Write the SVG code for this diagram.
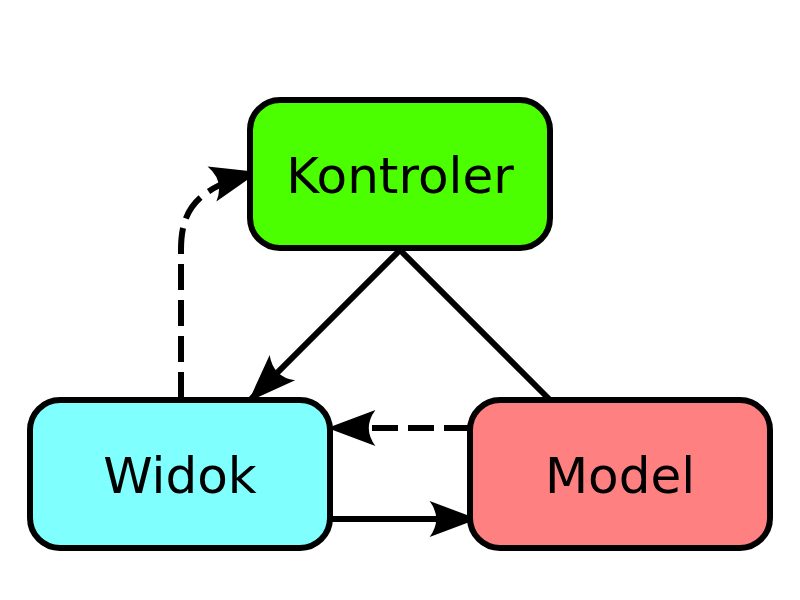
<svg xmlns="http://www.w3.org/2000/svg" width="800" height="600" viewBox="0 0 800 600">
<style>
.box{stroke:#000;stroke-width:6}
.lbl{font-family:"DejaVu Sans",sans-serif;font-size:50px;text-anchor:middle;fill:#000}
.c{fill:none;stroke:#000;stroke-width:6}
.d{stroke-dasharray:26,10}
</style>
<defs>
<marker id="ah" markerUnits="userSpaceOnUse" orient="auto" markerWidth="60" markerHeight="60" viewBox="-45 -20 50 40" refX="0" refY="0" overflow="visible">
<path d="M3,0 L-37,-15 Q-26,0 -37,15 Z" fill="#000"/>
</marker>
</defs>
<rect width="800" height="600" fill="#fff"/>
<g id="connectors">
<path class="c" d="M400,250 L251,399" marker-end="url(#ah)"/>
<path class="c" d="M400,250 L550,400"/>
<path class="c d" d="M470,428 L331,428" marker-end="url(#ah)"/>
<path class="c" d="M330,519 L474,519" marker-end="url(#ah)"/>
<path class="c d" d="M181,398 L181,250 C181,210 196,188 255,173" marker-end="url(#ah)"/>
</g>
<g id="kontroler">
<rect class="box" x="250" y="100" width="300" height="148" rx="30" fill="#4cff00"/>
<text class="lbl" x="400" y="193">Kontroler</text>
</g>
<g id="widok">
<rect class="box" x="30" y="400" width="300" height="148" rx="30" fill="#80ffff"/>
<text class="lbl" x="180" y="493">Widok</text>
</g>
<g id="model">
<rect class="box" x="470" y="400" width="300" height="148" rx="30" fill="#ff8080"/>
<text class="lbl" x="620" y="493">Model</text>
</g>
</svg>
